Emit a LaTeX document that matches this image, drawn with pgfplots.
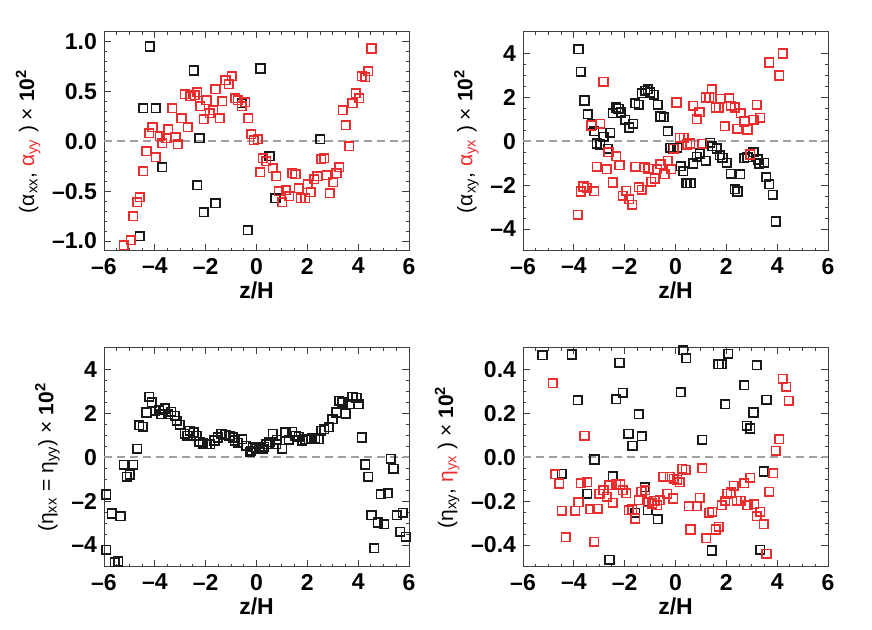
\documentclass[border=0pt]{standalone}
\usepackage{fontspec}
\setmainfont{Liberation Sans}
\usepackage{xcolor}
\usepackage{pgfplots}
\pgfplotsset{compat=1.18}

\definecolor{myred}{RGB}{235,45,45}
\definecolor{zeroline}{RGB}{160,160,160}

\pgfplotsset{
  panel/.style={
    width=152.5pt, height=109.75pt, scale only axis,
    anchor=south west,
    xmin=-6, xmax=6,
    xtick={-6,-4,-2,0,2,4,6},
    xticklabels={–6,–4,–2,0,2,4,6},
    minor x tick num=3,
    tick pos=both, ticklabel pos=left,
    tick align=inside,
    major tick length=3.5pt, minor tick length=1.6pt,
    axis line style={black!75, line width=0.5pt},
    every tick/.style={black!75, line width=0.5pt},
    tick label style={font=\fontsize{11.5}{13}\selectfont\bfseries},
    xlabel={\bfseries z/H},
    xlabel style={font=\fontsize{11.5}{13}\selectfont, yshift=3pt},
    ylabel style={font=\fontsize{10.5}{12}\selectfont, yshift=-1pt},
    clip=true,
  },
  blk/.style={only marks, mark=square, mark size=2.15pt, black!90, mark options={line width=0.8pt}},
  rd/.style={only marks, mark=square, mark size=2.15pt, myred, mark options={line width=0.8pt}},
  zl/.style={zeroline, dashed, dash pattern=on 4pt off 2.5pt, line width=0.75pt},
}

\begin{document}
\begin{tikzpicture}
\path[use as bounding box] (0,0) rectangle (436pt,315pt);

% top left
\begin{axis}[panel, at={(52pt,189.5pt)},
  ymin=-1.1, ymax=1.1,
  ytick={-1,-0.5,0,0.5,1},
  yticklabels={–1.0,–0.5,0.0,0.5,1.0},
  minor y tick num=4,
  ylabel={(α\textsubscript{xx}, \textcolor{myred}{α\textsubscript{yy}} ) × \textbf{10}\textsuperscript{\textbf{2}}}]
\addplot[zl] coordinates {(-6,0) (6,0)};
\addplot[blk] coordinates {
(-4.20,0.95) (-2.46,0.71) (0.16,0.73) (-4.46,0.33) (-3.96,0.33) (-0.58,0.38)
(-2.24,0.03) (-3.71,-0.26) (0.51,-0.15) (-2.33,-0.44) (-1.61,-0.62) (-2.08,-0.71)
(0.75,-0.57) (-0.34,-0.89) (-4.59,-0.95) (2.51,0.02)
};
\addplot[rd] coordinates {
(-5.22,-1.04) (-4.95,-0.99) (-4.85,-0.75) (-4.69,-0.61) (-4.59,-0.56) (-4.46,-0.30)
(-4.33,-0.10) (-3.96,-0.16) (-4.22,0.08) (-4.09,0.14) (-3.80,0.05) (-3.54,0.03)
(-3.71,-0.02) (-3.48,0.12) (-3.19,0.04) (-3.09,-0.03) (-3.32,0.33) (-2.95,0.23)
(-2.71,0.14) (-2.82,0.47) (-2.60,0.45) (-2.43,0.46) (-2.34,0.49) (-2.21,0.35)
(-1.97,0.41) (-2.08,0.22) (-1.84,0.28) (-1.71,0.31) (-1.45,0.23) (-1.61,0.52)
(-1.35,0.40) (-1.22,0.61) (-1.09,0.57) (-0.97,0.65) (-0.84,0.43) (-0.73,0.41)
(-0.44,0.39) (-0.58,0.35) (-0.33,0.23) (-0.21,0.07) (-0.10,0.01) (0.05,0.02)
(0.25,-0.17) (0.38,-0.20) (0.64,-0.27) (0.14,-0.31) (0.77,-0.35) (0.87,-0.50)
(1.01,-0.61) (1.16,-0.49) (1.29,-0.55) (1.40,-0.32) (1.53,-0.33) (1.66,-0.47)
(1.75,-0.57) (1.91,-0.57) (2.01,-0.43) (2.14,-0.51) (2.27,-0.38) (2.40,-0.35)
(2.54,-0.18) (2.67,-0.17) (2.76,-0.34) (2.89,-0.52) (3.02,-0.41) (3.15,-0.32)
(3.25,-0.26) (3.65,-0.05) (3.52,0.16) (3.40,0.31) (3.78,0.38) (3.91,0.48)
(4.04,0.43) (4.14,0.65) (4.27,0.64) (4.39,0.70) (4.52,0.93)
};
\end{axis}

% top right
\begin{axis}[panel, at={(261.5pt,189.5pt)},
  ymin=-5, ymax=5,
  ytick={-4,-2,0,2,4},
  yticklabels={–4,–2,0,2,4},
  minor y tick num=3,
  ylabel={(α\textsubscript{xy}, \textcolor{myred}{α\textsubscript{yx}} ) × \textbf{10}\textsuperscript{\textbf{2}}}]
\addplot[zl] coordinates {(-6,0) (6,0)};
\addplot[blk] coordinates {
(-3.82,4.19) (-3.72,3.17) (-3.58,1.86) (-3.45,1.24) (-3.29,0.76) (-3.20,0.45)
(-3.09,-0.10) (-2.96,-0.15) (-2.83,0.20) (-2.57,0.38) (-2.66,-0.34) (-2.46,1.28)
(-2.33,1.54) (-2.24,1.47) (-2.15,1.31) (-1.98,0.98) (-1.82,0.63) (-1.67,0.80)
(-1.58,1.74) (-1.45,1.66) (-1.32,2.19) (-1.19,2.29) (-1.09,2.37) (-0.99,2.22)
(-0.86,2.11) (-0.70,1.66) (-0.59,1.13) (-0.46,1.10) (-0.30,0.45) (-0.20,-0.30)
(0.07,-0.30) (-0.09,-0.33) (0.20,-1.13) (0.30,-1.36) (0.40,-1.91) (0.46,-1.91)
(0.59,-1.91) (0.70,-1.01) (0.83,-0.71) (0.96,-0.56) (1.19,-0.90) (1.36,-0.07)
(1.45,-0.23) (1.62,-0.33) (1.74,-0.63) (1.85,-0.75) (2.02,-0.98) (2.17,-1.48)
(2.54,-1.51) (2.33,-2.19) (2.44,-2.29) (2.70,-0.78) (2.83,-0.72) (3.07,-0.50)
(3.23,-0.83) (3.29,-1.01) (3.49,-0.98) (3.56,-1.63) (3.69,-1.96) (3.82,-2.44)
(3.95,-3.66)
};
\addplot[rd] coordinates {
(-3.85,-3.35) (-3.72,-2.29) (-3.62,-2.06) (-3.49,-2.13) (-3.20,-2.28) (-3.32,0.72)
(-2.96,0.80) (-2.83,2.71) (-3.09,-1.16) (-2.70,-1.28) (-2.64,-0.50) (-2.33,-0.68)
(-2.20,-1.10) (-2.46,-1.88) (-2.07,-2.49) (-1.94,-2.26) (-1.83,-2.64) (-1.71,-2.90)
(-1.58,-1.16) (-1.45,-2.10) (-1.32,-2.22) (-1.21,-1.18) (-1.08,-1.25) (-0.95,-1.85)
(-0.82,-1.70) (-0.72,-1.28) (-0.59,-1.05) (-0.43,-1.51) (-0.30,-0.90) (-0.17,-1.28)
(0.04,1.76) (-0.07,-0.34) (0.17,0.15) (0.33,0.15) (0.46,-0.15) (0.57,-0.10)
(0.70,1.62) (0.83,1.01) (0.94,1.33) (1.05,-0.12) (1.19,1.99) (1.32,1.99)
(1.42,2.37) (1.58,1.54) (1.71,1.54) (1.75,1.93) (1.94,0.68) (2.11,1.96)
(2.17,1.62) (2.33,1.54) (2.44,0.56) (2.57,1.28) (2.70,0.90) (2.83,0.53)
(2.94,-0.60) (3.07,0.98) (3.20,1.66) (3.33,1.06) (3.69,3.59) (4.08,2.99)
(4.22,4.00)
};
\end{axis}

% bottom left
\begin{axis}[panel, at={(52pt,31.5pt)},
  ymin=-5, ymax=5,
  ytick={-4,-2,0,2,4},
  yticklabels={–4,–2,0,2,4},
  minor y tick num=3,
  ylabel={(η\textsubscript{xx} = η\textsubscript{yy}) × \textbf{10}\textsuperscript{\textbf{2}}}]
\addplot[zl] coordinates {(-6,0) (6,0)};
\addplot[blk] coordinates {
(-5.92,-1.70) (-5.70,-2.56) (-5.35,-2.68) (-5.92,-4.22) (-5.57,-4.78) (-5.44,-4.75)
(-5.11,-0.90) (-4.98,-0.80) (-5.22,-0.34) (-4.85,-0.34) (-4.69,0.38) (-4.61,1.46)
(-4.48,1.39) (-4.33,2.04) (-4.22,2.75) (-4.12,2.49) (-4.00,2.11) (-3.83,2.14)
(-3.74,1.96) (-3.61,2.22) (-3.48,1.96) (-3.35,2.07) (-3.21,1.89) (-3.13,1.66)
(-3.02,1.48) (-2.82,1.06) (-2.73,0.98) (-2.63,1.21) (-2.47,1.13) (-2.36,0.98)
(-2.24,0.71) (-2.11,0.63) (-1.95,0.60) (-1.82,0.60) (-1.65,0.76) (-1.52,0.90)
(-1.38,1.06) (-1.22,1.03) (-1.06,0.98) (-0.93,0.90) (-0.86,0.76) (-0.73,0.65)
(-0.56,0.83) (-0.40,0.53) (-0.25,0.23) (-0.14,0.45) (-0.01,0.38) (0.12,0.45)
(0.25,0.38) (0.38,0.60) (0.51,0.68) (0.64,1.06) (0.77,0.60) (-0.21,0.30)
(0.31,0.48) (0.48,0.60) (0.80,0.79) (1.01,0.38) (1.14,1.13) (1.27,0.80)
(1.40,1.16) (1.53,0.98) (1.66,0.94) (1.79,0.76) (1.92,0.83) (2.05,0.83)
(2.18,0.86) (2.31,0.86) (2.44,0.83) (2.54,1.21) (2.67,1.28) (2.84,1.36)
(2.99,1.74) (3.13,2.04) (3.25,2.57) (3.38,2.49) (3.52,1.99) (3.65,2.42)
(3.78,2.75) (3.93,2.71) (4.01,2.42) (4.15,0.90) (4.27,-0.33) (4.39,-0.90)
(4.52,-2.64) (4.77,-2.97) (4.89,-1.69) (5.02,-3.05) (4.63,-4.15) (5.16,-1.63)
(5.28,-0.07) (5.39,-0.52) (5.52,-2.64) (5.76,-2.53) (5.65,-3.39) (5.87,-3.62)
};
\end{axis}

% bottom right
\begin{axis}[panel, at={(261.5pt,31.5pt)},
  ymin=-0.5, ymax=0.5,
  ytick={-0.4,-0.2,0,0.2,0.4},
  yticklabels={–0.4,–0.2,0.0,0.2,0.4},
  minor y tick num=3,
  ylabel={(η\textsubscript{xy}, \textcolor{myred}{η\textsubscript{yx}} ) × \textbf{10}\textsuperscript{\textbf{2}}}]
\addplot[zl] coordinates {(-6,0) (6,0)};
\addplot[blk] coordinates {
(-5.23,0.465) (-4.08,0.468) (-2.20,0.43) (-3.85,0.26) (-2.33,0.264) (-2.07,0.294)
(-1.45,0.196) (-1.85,0.106) (-1.32,0.095) (-1.69,0.053) (-3.19,-0.010) (-4.48,-0.075)
(-3.47,-0.166) (-2.46,-0.087) (-1.21,-0.136) (-1.58,-0.253) (-1.09,-0.241) (-0.70,-0.283)
(-2.60,-0.467) (-0.46,0.513) (0.30,0.487) (0.42,0.452) (0.20,0.297) (1.05,0.080)
(1.42,-0.425) (2.07,0.471) (1.69,0.423) (1.82,0.423) (1.95,0.242) (2.70,0.328)
(3.20,0.419) (3.07,0.204) (2.81,0.143) (2.94,0.131) (3.58,0.261) (3.47,-0.065)
(3.33,-0.422)
};
\addplot[rd] coordinates {
(-4.83,0.337) (-3.58,0.098) (-4.74,-0.078) (-4.58,-0.120) (-4.48,-0.244) (-4.32,-0.365)
(-3.95,-0.244) (-3.82,-0.204) (-3.72,-0.118) (-3.47,-0.113) (-3.36,-0.237) (-3.07,-0.234)
(-3.20,-0.385) (-2.99,-0.166) (-2.83,-0.151) (-2.70,-0.181) (-2.60,-0.128) (-2.46,-0.208)
(-2.33,-0.124) (-2.17,-0.124) (-2.07,-0.151) (-1.94,-0.163) (-1.84,-0.241) (-1.71,-0.237)
(-1.58,-0.279) (-1.45,-0.196) (-1.34,-0.158) (-1.19,-0.151) (-1.08,-0.204) (-0.92,-0.211)
(-0.83,-0.199) (-0.72,-0.219) (-0.62,-0.196) (-0.49,-0.090) (-0.33,-0.166) (-0.23,-0.090)
(-0.09,-0.188) (-0.07,-0.098) (0.07,-0.102) (0.17,-0.113) (0.26,-0.053) (0.40,-0.057)
(0.53,-0.223) (0.59,-0.329) (0.83,-0.223) (0.95,-0.185) (1.05,-0.050) (1.21,-0.369)
(1.32,-0.253) (1.45,-0.249) (1.58,-0.329) (1.71,-0.317) (1.82,-0.219) (1.95,-0.199)
(2.04,-0.166) (2.17,-0.161) (2.30,-0.131) (2.41,-0.199) (2.57,-0.199) (2.70,-0.118)
(2.83,-0.219) (2.94,-0.093) (3.09,-0.214) (3.20,-0.268) (3.33,-0.249) (3.47,-0.305)
(3.58,-0.440) (3.69,-0.158) (3.85,-0.072) (3.95,0.030) (4.08,0.083) (4.22,0.357)
(4.35,0.321) (4.45,0.257)
};
\end{axis}
\end{tikzpicture}
\end{document}
